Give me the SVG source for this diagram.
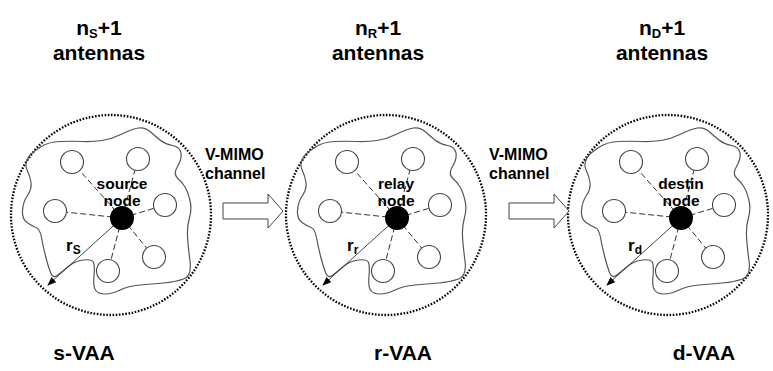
<svg xmlns="http://www.w3.org/2000/svg" xmlns:xlink="http://www.w3.org/1999/xlink" width="773" height="371" viewBox="0 0 773 371">
<style>
text{font-family:"Liberation Sans",Arial,sans-serif;font-weight:bold;fill:#000}
.big{font-size:21px}
.mid{font-size:16px}
.lbl{font-size:15.5px}
.rl{font-size:17px}
.dot{fill:none;stroke:#000;stroke-width:2.3;stroke-dasharray:1.6 1.6}
.blob{fill:none;stroke:#555;stroke-width:1.2}
.ant{fill:#fff;stroke:#444;stroke-width:1.1}
.dash{stroke:#333;stroke-width:1;stroke-dasharray:6 3}
.rad{stroke:#333;stroke-width:0.9}
.blk{fill:#fff;stroke:#444;stroke-width:1}
</style>
<defs>
<marker id="ah" markerWidth="9" markerHeight="7" refX="8" refY="3.5" orient="auto" markerUnits="userSpaceOnUse">
<path d="M0,0 L9,3.5 L0,7 z" fill="#000"/>
</marker>
<g id="core">
<path class="blob" d="M-91.5,-63.5 Q-89,-66 -81.5,-71 Q-74,-76 -62,-76.5 Q-50,-77 -40,-76.5 Q-30,-76 -20,-77.5 Q-10,-79 0,-84 Q10,-89 16.5,-90 Q23,-91 28,-86.5 Q33,-82 38,-78 Q43,-74 50.5,-72.5 Q58,-71 59,-65 Q60,-59 55.5,-51.5 Q51,-44 55.5,-40 Q60,-36 63,-31 Q66,-26 68,-17.5 Q70,-9 67.5,-0.5 Q65,8 65.5,18 Q66,28 68,43 Q70,58 61.5,61 Q53,64 41.5,65 Q30,66 18,67 Q6,68 -2,72 Q-10,76 -17,76 Q-24,76 -26.5,72 Q-29,68 -28,58 Q-27,48 -28.5,44.5 Q-30,41 -38.5,42 Q-47,43 -53,48 Q-59,53 -64,57 Q-69,61 -71.5,54.5 Q-74,48 -76.5,38 Q-79,28 -80.5,19.5 Q-82,11 -86,9.5 Q-90,8 -95,4.5 Q-100,1 -99.5,-7.5 Q-99,-16 -94.5,-22.5 Q-90,-29 -91,-35.5 Q-92,-42 -94.5,-47 Q-97,-52 -95.5,-56.5 Q-94,-61 -91.5,-63.5 Z"/>
<line class="dash" x1="0" y1="0" x2="-42" y2="-47"/>
<line class="dash" x1="0" y1="0" x2="13" y2="-48"/>
<line class="dash" x1="0" y1="0" x2="-55.5" y2="-5.8"/>
<line class="dash" x1="0" y1="0" x2="32" y2="-9.7"/>
<line class="dash" x1="0" y1="0" x2="24.7" y2="30.1"/>
<line class="dash" x1="0" y1="0" x2="-11" y2="41.8"/>
<circle class="ant" cx="-50" cy="-56" r="11.5"/>
<circle class="ant" cx="16" cy="-59" r="11.5"/>
<circle class="ant" cx="-67" cy="-7" r="11.5"/>
<circle class="ant" cx="43" cy="-13" r="11.5"/>
<circle class="ant" cx="32" cy="39" r="11.5"/>
<circle class="ant" cx="-14" cy="53" r="11.5"/>
<line class="rad" x1="0" y1="0" x2="-74" y2="67" marker-end="url(#ah)"/>
<circle cx="0" cy="0" r="12" fill="#000"/>
</g>
</defs>

<g id="s-vaa">
<circle class="dot" cx="111" cy="215" r="100"/>
<use xlink:href="#core" href="#core" transform="translate(122,218)"/>
<text class="lbl" x="122" y="189" text-anchor="middle">source</text>
<text class="lbl" x="122" y="206" text-anchor="middle">node</text>
<text class="rl" x="66" y="251">r<tspan font-size="12" dy="3">S</tspan></text>
<text class="big" x="99" y="35" text-anchor="middle">n<tspan font-size="13" dy="3">S</tspan><tspan dy="-3">+1</tspan></text>
<text class="big" x="99" y="60" text-anchor="middle">antennas</text>
<text class="big" x="84" y="360" text-anchor="middle">s-VAA</text>
</g>

<g id="r-vaa">
<circle class="dot" cx="386" cy="215" r="100"/>
<use xlink:href="#core" href="#core" transform="translate(397,218)"/>
<text class="lbl" x="396" y="189" text-anchor="middle">relay</text>
<text class="lbl" x="396" y="206" text-anchor="middle">node</text>
<text class="rl" x="347" y="251">r<tspan font-size="12" dy="3">r</tspan></text>
<text class="big" x="378" y="35" text-anchor="middle">n<tspan font-size="13" dy="3">R</tspan><tspan dy="-3">+1</tspan></text>
<text class="big" x="378" y="60" text-anchor="middle">antennas</text>
<text class="big" x="403" y="360" text-anchor="middle">r-VAA</text>
</g>

<g id="d-vaa">
<circle class="dot" cx="668" cy="215" r="100"/>
<use xlink:href="#core" href="#core" transform="translate(681,218)"/>
<text class="lbl" x="681" y="189" text-anchor="middle">destin</text>
<text class="lbl" x="681" y="206" text-anchor="middle">node</text>
<text class="rl" x="628" y="251">r<tspan font-size="12" dy="3">d</tspan></text>
<text class="big" x="662" y="35" text-anchor="middle">n<tspan font-size="13" dy="3">D</tspan><tspan dy="-3">+1</tspan></text>
<text class="big" x="662" y="60" text-anchor="middle">antennas</text>
<text class="big" x="704" y="360" text-anchor="middle">d-VAA</text>
</g>

<g id="connectors">
<polygon class="blk" points="223,203 268,203 268,194 283,211 268,228 268,219 223,219"/>
<text class="mid" x="205" y="160">V-MIMO</text>
<text class="mid" x="205" y="179">channel</text>
<polygon class="blk" points="509,203 554,203 554,194 569,211 554,228 554,219 509,219"/>
<text class="mid" x="489" y="160">V-MIMO</text>
<text class="mid" x="489" y="179">channel</text>
</g>
</svg>
